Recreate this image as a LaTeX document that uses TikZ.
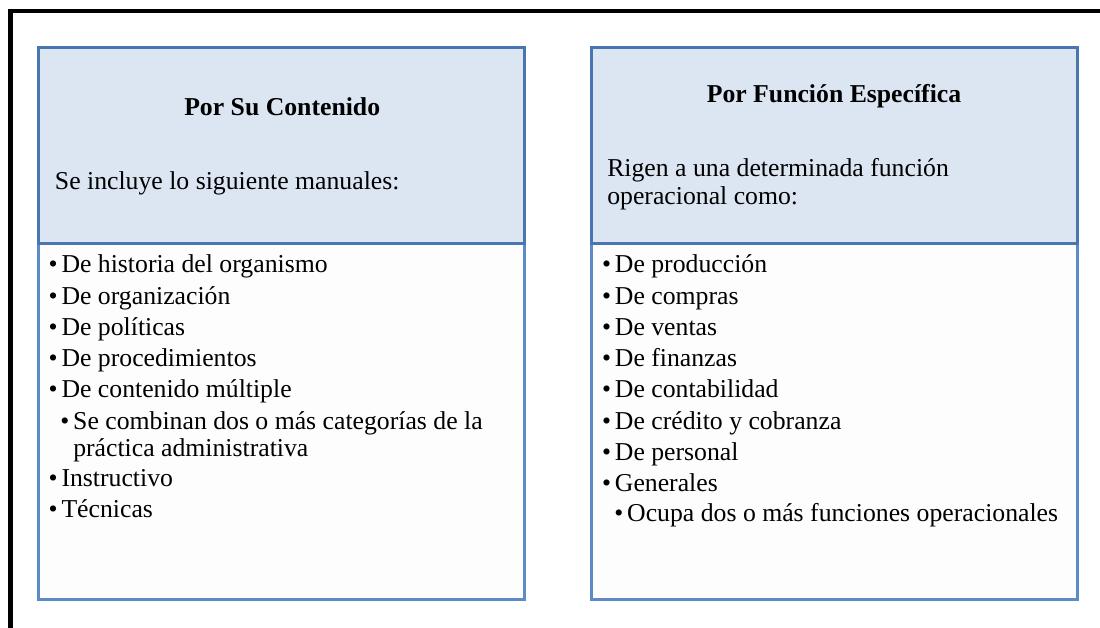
\documentclass[tikz,border=0pt]{standalone}
\usepackage{fontspec}
\setmainfont{Liberation Serif}
\usetikzlibrary{positioning}
\definecolor{hblue}{RGB}{74,118,175}
\definecolor{bblue}{RGB}{92,139,199}
\definecolor{hfill}{RGB}{220,230,242}
\definecolor{bfill}{RGB}{253,253,253}
\newcommand{\itm}{\makebox[0.5em][l]{\textbullet}}
\tikzset{
  frame/.style ={draw=black, line width=0.1cm},
  body/.style  ={rectangle, draw=bblue, fill=bfill, line width=0.075cm, inner sep=0pt,
                 outer sep=0pt, minimum width=12.125cm, minimum height=8.8875cm},
  head/.style  ={rectangle, draw=hblue, fill=hfill, line width=0.075cm, inner sep=0pt,
                 outer sep=0pt, minimum width=12.125cm, minimum height=4.8875cm},
  ttl/.style   ={anchor=base, inner sep=0pt, font=\fontsize{18.3}{22}\selectfont\bfseries},
  txt/.style   ={anchor=base west, inner sep=0pt, font=\fontsize{18.3}{22}\selectfont}
}
\begin{document}
\begin{tikzpicture}[x=0.025cm, y=-0.025cm]
\useasboundingbox (0,0) rectangle (1100,628);
\begin{scope}
\clip (0,0) rectangle (1100,628);
\draw[frame] (10.5,11.5) rectangle (1140,670);
\end{scope}
% left column
\node[body] (bodyL) at (281.5,421.25) {};
\node[head, above=0pt of bodyL] (headL) {};
\node[ttl] (ttlL) at (282.2,116) {Por Su Contenido};
\node[txt] (introL) at (54.7,190) {Se incluye lo siguiente manuales:};
\node[txt] (l1) at (48.4,273) {\itm De historia del organismo};
\node[txt] (l2) at (48.4,304.5) {\itm De organización};
\node[txt] (l3) at (48.4,335.5) {\itm De políticas};
\node[txt] (l4) at (48.4,367) {\itm De procedimientos};
\node[txt] (l5) at (48.4,398) {\itm De contenido múltiple};
\node[txt] (l5a) at (60.1,430) {\itm Se combinan dos o más categorías de la};
\node[txt] (l5b) at (73,457) {práctica administrativa};
\node[txt] (l6) at (48.4,487) {\itm Instructivo};
\node[txt] (l7) at (48.4,518) {\itm Técnicas};
% right column
\node[body] (bodyR) at (834.5,421.25) {};
\node[head, above=0pt of bodyR] (headR) {};
\node[ttl] (ttlR) at (834,103) {Por Función Específica};
\node[txt] (introR1) at (607,176.7) {Rigen a una determinada función};
\node[txt] (introR2) at (607,205) {operacional como:};
\node[txt] (r1) at (601.8,273) {\itm De producción};
\node[txt] (r2) at (601.8,304.5) {\itm De compras};
\node[txt] (r3) at (601.8,335.5) {\itm De ventas};
\node[txt] (r4) at (601.8,367) {\itm De finanzas};
\node[txt] (r5) at (601.8,398) {\itm De contabilidad};
\node[txt] (r6) at (601.8,430) {\itm De crédito y cobranza};
\node[txt] (r7) at (601.8,461) {\itm De personal};
\node[txt] (r8) at (601.8,491.7) {\itm Generales};
\node[txt] (r8a) at (614.1,521.7) {\itm Ocupa dos o más funciones operacionales};
\end{tikzpicture}
\end{document}
